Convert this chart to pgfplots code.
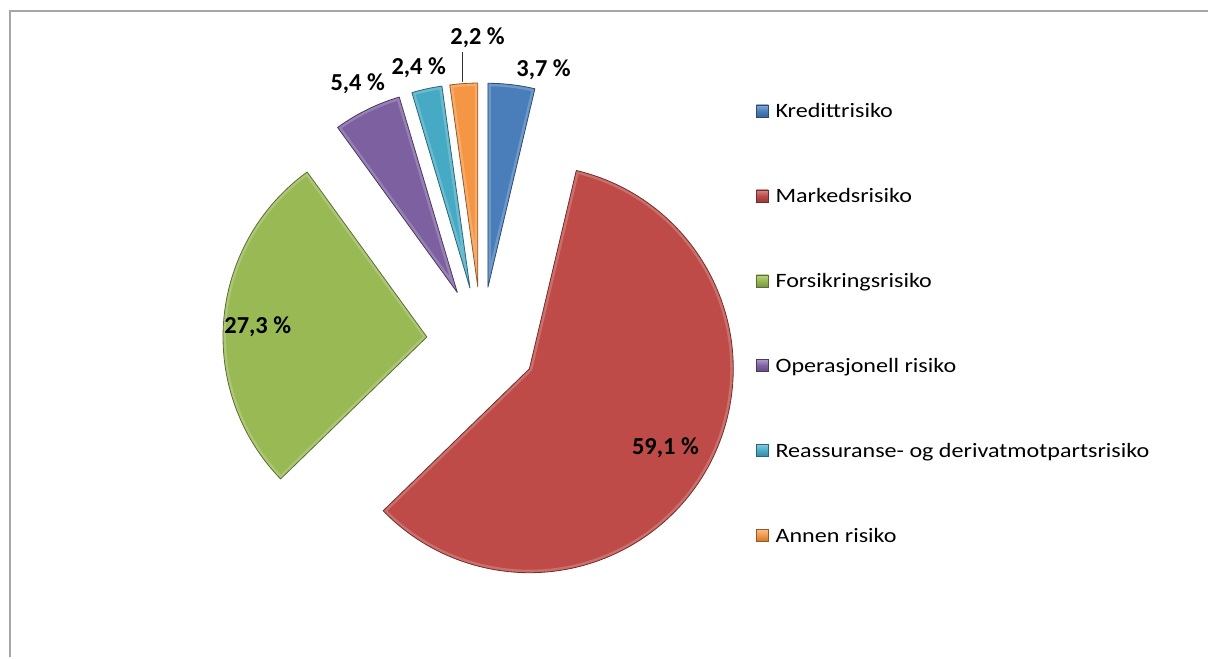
\documentclass[border=0pt]{standalone}
\usepackage{fontspec}
\setmainfont{Carlito}
\newfontfamily\legfont{Carlito}[FakeStretch=1.18]
\usepackage{pgfplots}
\usepackage{pgfplotstable}
\pgfplotsset{compat=1.18}
\definecolor{cK}{HTML}{4A7EBB}
\definecolor{cM}{HTML}{BE4B48}
\definecolor{cF}{HTML}{98B954}
\definecolor{cO}{HTML}{7D60A0}
\definecolor{cR}{HTML}{46AAC5}
\definecolor{cA}{HTML}{F59644}
\definecolor{framegray}{HTML}{A6A6A6}
\pgfplotstableread[col sep=comma]{
name,val,col,lab,lx,ly
Kredittrisiko,3.7,cK,{3,7~\%},544,70
Markedsrisiko,59.1,cM,{59,1~\%},666,448
Forsikringsrisiko,27.3,cF,{27,3~\%},258,327
Operasjonell risiko,5.4,cO,{5,4~\%},358,84
Reassuranse- og derivatmotpartsrisiko,2.4,cR,{2,4~\%},419,68
Annen risiko,2.2,cA,{2,2~\%},478,38
}\pietable
\begin{document}
\begin{tikzpicture}
\begin{axis}[scale only axis, width=1209bp, height=658bp,
  xmin=0, xmax=1209, ymin=0, ymax=658, hide axis, clip=false]
\pgfplotsextra{
  \fill[white] (axis cs:0,0) rectangle (axis cs:1209,658);
  \draw[framegray, line width=2bp] (axis cs:10,0) -- (axis cs:10,647) -- (axis cs:1209,647);
  \xdef\total{0}
  \foreach \i in {0,...,5}{
    \pgfplotstablegetelem{\i}{val}\of\pietable
    \pgfmathsetmacro\nt{\total+\pgfplotsretval}
    \xdef\total{\nt}
  }
  \xdef\cum{0}
  \foreach \i in {0,...,5}{
    \pgfplotstablegetelem{\i}{val}\of\pietable \let\v\pgfplotsretval
    \pgfplotstablegetelem{\i}{col}\of\pietable \let\c\pgfplotsretval
    \pgfplotstablegetelem{\i}{name}\of\pietable \let\nm\pgfplotsretval
    \pgfplotstablegetelem{\i}{lab}\of\pietable \let\lb\pgfplotsretval
    \pgfplotstablegetelem{\i}{lx}\of\pietable \let\lx\pgfplotsretval
    \pgfplotstablegetelem{\i}{ly}\of\pietable \let\ly\pgfplotsretval
    \pgfmathsetmacro\fS{\cum/\total}
    \pgfmathsetmacro\fE{(\cum+\v)/\total}
    \pgfmathsetmacro\aS{90-360*\fS}
    \pgfmathsetmacro\aE{90-360*\fE}
    \pgfmathsetmacro\aM{(\aS+\aE)/2}
    \pgfmathsetmacro\cx{482+55*cos(\aM)}
    \pgfmathsetmacro\cy{316+55*sin(\aM)}
    \def\wedge{(axis cs:\cx,\cy) -- ++(\aS:204bp) arc[start angle=\aS, end angle=\aE, radius=204bp] -- cycle}
    \begin{scope}
      \clip \wedge;
      \fill[\c] \wedge;
      \draw[\c!55!white, line width=6bp, opacity=0.45, line join=round] \wedge;
    \end{scope}
    \draw[\c!60!black, line width=0.8bp, line join=round] \wedge;
    \pgfmathsetmacro\newcum{\cum+\v}
    \xdef\cum{\newcum}
    \pgfmathsetmacro\ty{658-\ly}
    \node[font=\bfseries\fontsize{24.5}{24.5}\selectfont, text=black, inner sep=0pt] at (axis cs:\lx,\ty) {\lb};
    \pgfmathsetmacro\sy{547-85*\i}
    \pgfmathsetmacro\by{540-85*\i}
    \shade[top color=\c!65!white, bottom color=\c!80!black, middle color=\c] (axis cs:757,\sy-6) rectangle (axis cs:769,\sy+6);
    \draw[\c!60!black, line width=0.5bp] (axis cs:757,\sy-6) rectangle (axis cs:769,\sy+6);
    \node[anchor=base west, inner sep=0pt, font=\legfont\fontsize{20.5}{20.5}\selectfont] at (axis cs:776,\by) {\nm};
  }
  \draw[black!80, line width=1bp] (axis cs:463,606) -- (axis cs:463,576);
}
\end{axis}
\end{tikzpicture}
\end{document}
